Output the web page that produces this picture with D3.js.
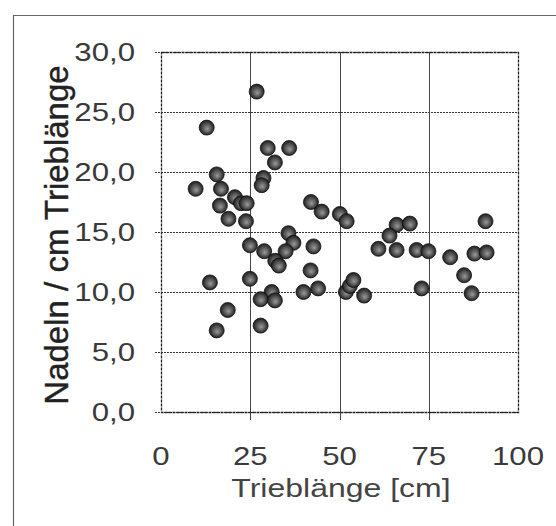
<!DOCTYPE html>
<html>
<head>
<meta charset="utf-8">
<script src="https://cdn.jsdelivr.net/npm/d3@7"></script>
<style>
  body { margin: 0; background: #fff; }
  svg { display: block; font-family: "Liberation Sans", Arial, sans-serif; }
</style>
</head>
<body>
<div id="chart"></div>
<script>
// shoot length [cm] and needles per cm of shoot
var shootLength = [26.8, 12.8, 29.9, 35.9, 31.9, 15.6, 28.7, 28.2, 9.7, 16.8,
                   20.7, 22.4, 24.0, 16.5, 18.9, 23.8, 42.0, 45.0, 50.1, 52.0,
                   35.7, 37.1, 34.9, 24.9, 28.9, 32.0, 33.0, 42.7, 41.9, 24.9,
                   13.7, 31.0, 27.9, 31.9, 39.9, 44.0, 18.7, 15.6, 27.9, 51.8,
                   52.9, 53.9, 56.9, 66.0, 69.7, 64.0, 60.9, 66.0, 71.6, 74.9,
                   81.0, 87.8, 91.2, 90.9, 84.9, 73.0, 87.0];
var needlesPerCm = [26.7, 23.7, 22.0, 22.0, 20.8, 19.8, 19.5, 18.9, 18.6, 18.6,
                    17.9, 17.4, 17.4, 17.2, 16.1, 15.9, 17.5, 16.7, 16.5, 15.9,
                    14.9, 14.1, 13.4, 13.9, 13.4, 12.6, 12.2, 13.8, 11.8, 11.1,
                    10.8, 10.0, 9.4, 9.3, 10.0, 10.3, 8.5, 6.8, 7.2, 10.0,
                    10.5, 11.0, 9.7, 15.6, 15.7, 14.7, 13.6, 13.5, 13.5, 13.4,
                    12.9, 13.2, 13.3, 15.9, 11.4, 10.3, 9.9];
var xTicks = [0, 25, 50, 75, 100];
var yTicks = [0, 5, 10, 15, 20, 25, 30];

var width = 556, height = 526;
var plot = {left: 161, right: 518, top: 52, bottom: 412};

var x = d3.scaleLinear().domain([0, 100]).range([plot.left, plot.right]);
var y = d3.scaleLinear().domain([0, 30]).range([plot.bottom, plot.top]);

var svg = d3.select('#chart')
    .append('svg')
    .attr('width', width)
    .attr('height', height);

var defs = svg.append('defs');
var grad = defs.append('radialGradient')
    .attr('id', 'ball')
    .attr('cx', '50%').attr('cy', '50%').attr('r', '55%')
    .attr('fx', '55%').attr('fy', '60%');
grad.append('stop').attr('offset', '0%').attr('stop-color', '#9a9a9a');
grad.append('stop').attr('offset', '60%').attr('stop-color', '#4a4a4a');
grad.append('stop').attr('offset', '100%').attr('stop-color', '#111');

// outer chart border
svg.append('path')
    .attr('d', 'M13.5,' + height + 'V15.5H' + width)
    .attr('fill', 'none')
    .attr('stroke', '#666')
    .attr('stroke-width', 1.2);

// horizontal gridlines (dotted)
svg.append('g')
    .selectAll('line')
    .data(yTicks)
    .enter()
    .append('line')
    .attr('x1', plot.left - 6)
    .attr('x2', plot.right)
    .attr('y1', function(d) { return Math.round(y(d)) + 0.5; })
    .attr('y2', function(d) { return Math.round(y(d)) + 0.5; })
    .attr('stroke', '#333')
    .attr('stroke-width', 1.2)
    .attr('stroke-dasharray', '2,1');

// vertical gridlines
svg.append('g')
    .selectAll('line')
    .data(xTicks.slice(1, 4))
    .enter()
    .append('line')
    .attr('x1', function(d) { return Math.round(x(d)) + 0.5; })
    .attr('x2', function(d) { return Math.round(x(d)) + 0.5; })
    .attr('y1', plot.top)
    .attr('y2', plot.bottom + 8)
    .attr('stroke', '#444')
    .attr('stroke-width', 1);

// plot frame
svg.append('rect')
    .attr('x', plot.left + 0.5)
    .attr('y', plot.top + 0.5)
    .attr('width', plot.right - plot.left)
    .attr('height', plot.bottom - plot.top)
    .attr('fill', 'none')
    .attr('stroke', '#222')
    .attr('stroke-width', 1.3)
    .attr('stroke-dasharray', '3,1');

// y tick labels
svg.append('g')
    .selectAll('text')
    .data(yTicks)
    .enter()
    .append('text')
    .attr('transform', function(d) { return 'translate(135,' + (y(d) + 9) + ') scale(1.2,1)'; })
    .attr('text-anchor', 'end')
    .attr('font-size', 26)
    .attr('fill', '#3a3a3a')
    .text(function(d) { return d3.format('.1f')(d).replace('.', ','); });

// x tick labels
svg.append('g')
    .selectAll('text')
    .data(xTicks)
    .enter()
    .append('text')
    .attr('transform', function(d) { return 'translate(' + x(d) + ',465) scale(1.2,1)'; })
    .attr('text-anchor', 'middle')
    .attr('font-size', 26)
    .attr('fill', '#3a3a3a')
    .text(function(d) { return d; });

// axis titles
svg.append('text')
    .attr('transform', 'translate(341,497) scale(1.28,1)')
    .attr('text-anchor', 'middle')
    .attr('font-size', 25)
    .attr('fill', '#444')
    .text('Trieblänge [cm]');

svg.append('text')
    .attr('transform', 'translate(68,235) rotate(-90)')
    .attr('text-anchor', 'middle')
    .attr('font-size', 33)
    .attr('fill', '#222')
    .attr('stroke', '#222')
    .attr('stroke-width', 0.4)
    .text('Nadeln / cm Trieblänge');

// data points
var points = d3.range(shootLength.length).map(function(i) {
    return {x: shootLength[i], y: needlesPerCm[i]};
});

svg.append('g')
    .selectAll('circle')
    .data(points)
    .enter()
    .append('circle')
    .attr('cx', function(d) { return x(d.x); })
    .attr('cy', function(d) { return y(d.y); })
    .attr('r', 7.5)
    .attr('fill', 'url(#ball)')
    .attr('stroke', '#111')
    .attr('stroke-width', 0.8);
</script>
</body>
</html>
